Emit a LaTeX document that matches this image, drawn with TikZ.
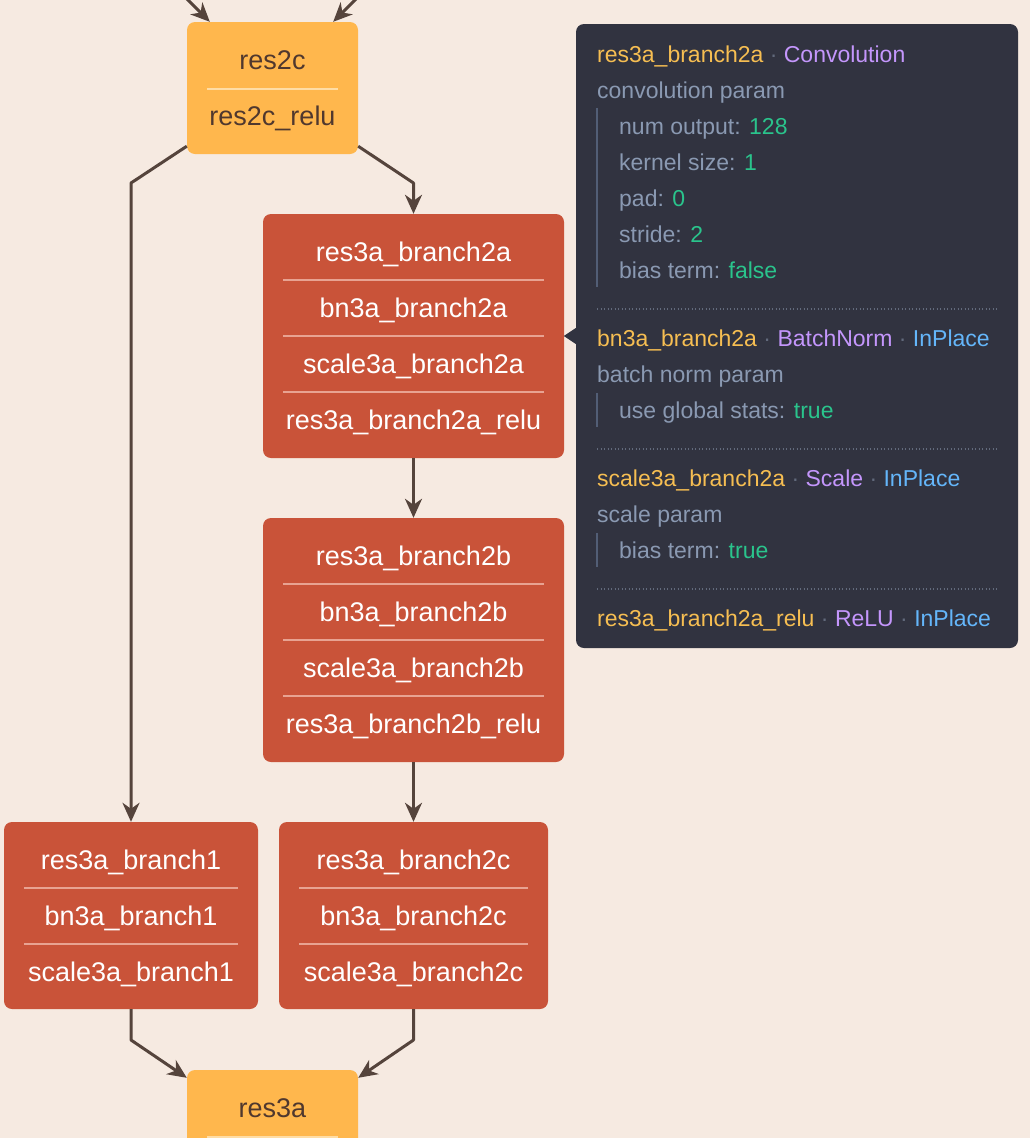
\documentclass[tikz,border=0pt]{standalone}
\usepackage{fontspec}
\setmainfont{Liberation Sans}
\usepackage{xcolor}
\usepackage{tikz}
\usetikzlibrary{arrows.meta, positioning, calc}
\definecolor{canvas}{RGB}{246,234,225}
\definecolor{hubfill}{RGB}{255,183,77}
\definecolor{hubtext}{RGB}{80,56,46}
\definecolor{hubrule}{RGB}{255,221,165}
\definecolor{layerfill}{RGB}{201,83,57}
\definecolor{layerrule}{RGB}{232,163,146}
\definecolor{edge}{RGB}{85,68,60}
\definecolor{tipfill}{RGB}{49,51,64}
\definecolor{tipname}{RGB}{246,190,82}
\definecolor{tiptype}{RGB}{196,150,252}
\definecolor{tipflag}{RGB}{100,182,250}
\definecolor{tipval}{RGB}{42,196,140}
\definecolor{tipgray}{RGB}{138,153,178}
\definecolor{tipdot}{RGB}{98,106,124}
\definecolor{tipbar}{RGB}{82,94,118}

\newcommand{\tipsep}{ \textcolor{tipdot}{·} }

\tikzset{
  opbox/.style={rounded corners=8pt, inner sep=0pt},
  hubbox/.style={opbox, fill=hubfill},
  layerbox/.style={opbox, fill=layerfill},
  hubrow/.style={inner sep=0pt, text height=19.3pt, text depth=0pt,
                 font=\fontsize{27}{31}\selectfont, text=hubtext},
  layerrow/.style={hubrow, text=white},
  hubline/.style={draw=hubrule, line width=2pt},
  layerline/.style={draw=layerrule, line width=2pt},
  flow/.style={draw=edge, line width=3pt, line join=round,
               -{Stealth[length=19pt, width=17pt, inset=6pt]}},
  tipbox/.style={opbox, fill=tipfill},
  tipline/.style={anchor=west, inner sep=0pt, text height=16.5pt, text depth=0pt,
                  font=\fontsize{23}{27}\selectfont, text=tipgray},
  tipbarline/.style={draw=tipbar, line width=2pt},
  tipdots/.style={draw=tipdot, line width=1.3pt, dash pattern=on 1.3pt off 2.2pt}
}

\begin{document}
\begin{tikzpicture}[x=1pt, y=-1pt]
    \useasboundingbox (0,0) rectangle (1030,1138);
    \clip (0,0) rectangle (1030,1138);
    \fill[canvas] (0,0) rectangle (1030,1138);

    % TOP: res2c
    \node[hubbox, minimum width=171pt, minimum height=132pt] (res2c) at (272.5,88) {};
    \node[hubrow] (res2c-1) at (272.5,60) {res2c};
    \draw[hubline] (207,89) -- (338,89);
    \node[hubrow] (res2c-2) at (272.5,116) {res2c\_relu};

    % INCOMING (from above the view)
    \coordinate (inL) at (180,-8);
    \coordinate (inR) at (363,-8);
    \draw[flow] (inL) -- ([xshift=23pt]res2c.north west);
    \draw[flow] (inR) -- ([xshift=-25pt]res2c.north east);

    % BRANCH 2a
    \node[layerbox, minimum width=301pt, minimum height=244pt] (b2a) at (413.5,336) {};
    \foreach \t [count=\i] in {res3a\_branch2a, bn3a\_branch2a,
                               scale3a\_branch2a, res3a\_branch2a\_relu}
        \node[layerrow] (b2a-\i) at (413.5,{196+56*\i}) {\t};
    \foreach \y in {280,336,392}
        \draw[layerline] (283,\y) -- (544,\y);

    % BRANCH 2b
    \node[layerbox, minimum width=301pt, minimum height=244pt] (b2b) at (413.5,640) {};
    \foreach \t [count=\i] in {res3a\_branch2b, bn3a\_branch2b,
                               scale3a\_branch2b, res3a\_branch2b\_relu}
        \node[layerrow] (b2b-\i) at (413.5,{500+56*\i}) {\t};
    \foreach \y in {584,640,696}
        \draw[layerline] (283,\y) -- (544,\y);

    % BRANCH 1
    \node[layerbox, minimum width=254pt, minimum height=187pt] (b1) at (131,915.5) {};
    \foreach \t [count=\i] in {res3a\_branch1, bn3a\_branch1, scale3a\_branch1}
        \node[layerrow] (b1-\i) at (131,{804+56*\i}) {\t};
    \foreach \y in {888,944}
        \draw[layerline] (24,\y) -- (238,\y);

    % BRANCH 2c
    \node[layerbox, minimum width=269pt, minimum height=187pt] (b2c) at (413.5,915.5) {};
    \foreach \t [count=\i] in {res3a\_branch2c, bn3a\_branch2c, scale3a\_branch2c}
        \node[layerrow] (b2c-\i) at (413.5,{804+56*\i}) {\t};
    \foreach \y in {888,944}
        \draw[layerline] (299,\y) -- (528,\y);

    % BOTTOM: res3a
    \node[hubbox, minimum width=171pt, minimum height=132pt] (res3a) at (272.5,1136) {};
    \node[hubrow] (res3a-1) at (272.5,1108) {res3a};
    \draw[hubline] (207,1137) -- (338,1137);

    % CONNECTORS
    \coordinate (kneeL) at (131,183);
    \coordinate (kneeR) at (413.5,183);
    \coordinate (footL) at (131,1040);
    \coordinate (footR) at (413.5,1040);
    \draw[flow] ([yshift=8pt]res2c.south west) -- (kneeL) -- (b1.north);
    \draw[flow] ([yshift=8pt]res2c.south east) -- (kneeR) -- (b2a.north);
    \draw[flow] (b2a.south) -- (b2b.north);
    \draw[flow] (b2b.south) -- (b2c.north);
    \draw[flow] (b1.south) -- (footL) -- ([yshift=-8pt]res3a.north west);
    \draw[flow] (b2c.south) -- (footR) -- ([yshift=-8pt]res3a.north east);

    % TOOLTIP for branch 2a
    \node[tipbox, minimum width=442pt, minimum height=624pt] (tip) at (797,336) {};
    \fill[tipfill] ([yshift=8pt]tip.west) -- ([xshift=-12pt]tip.west)
        -- ([yshift=-8pt]tip.west) -- cycle;

    \node[tipline] (conv) at (597,54)
        {\textcolor{tipname}{res3a\_branch2a}\tipsep\textcolor{tiptype}{Convolution}};
    \node[tipline] (conv-p) at (597,90) {convolution param};
    \foreach \k/\v [count=\i] in {num output/128, kernel size/1, pad/0,
                                  stride/2, bias term/false}
        \node[tipline] (conv-\i) at (619,{90+36*\i}) {\k: \textcolor{tipval}{\v}};
    \draw[tipbarline] (597,108) -- (597,287);
    \draw[tipdots] (597,309) -- (998,309);

    \node[tipline] (bn) at (597,338)
        {\textcolor{tipname}{bn3a\_branch2a}\tipsep\textcolor{tiptype}{BatchNorm}%
         \tipsep\textcolor{tipflag}{InPlace}};
    \node[tipline] (bn-p) at (597,374) {batch norm param};
    \node[tipline] (bn-1) at (619,410) {use global stats: \textcolor{tipval}{true}};
    \draw[tipbarline] (597,393) -- (597,427);
    \draw[tipdots] (597,449) -- (998,449);

    \node[tipline] (sc) at (597,478)
        {\textcolor{tipname}{scale3a\_branch2a}\tipsep\textcolor{tiptype}{Scale}%
         \tipsep\textcolor{tipflag}{InPlace}};
    \node[tipline] (sc-p) at (597,514) {scale param};
    \node[tipline] (sc-1) at (619,550) {bias term: \textcolor{tipval}{true}};
    \draw[tipbarline] (597,533) -- (597,567);
    \draw[tipdots] (597,589) -- (998,589);

    \node[tipline] (relu) at (597,618)
        {\textcolor{tipname}{res3a\_branch2a\_relu}\tipsep\textcolor{tiptype}{ReLU}%
         \tipsep\textcolor{tipflag}{InPlace}};

\end{tikzpicture}
\end{document}
